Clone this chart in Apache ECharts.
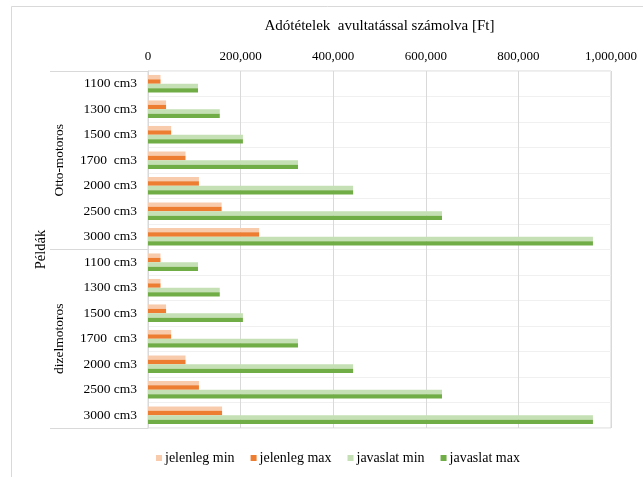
<!DOCTYPE html>
<html>
<head>
<meta charset="utf-8">
<script src="https://cdn.jsdelivr.net/npm/echarts@6/dist/echarts.min.js"></script>
<style>
html,body{margin:0;padding:0;background:#fff;}
#c{width:643px;height:477px;}
</style>
</head>
<body>
<div id="c"></div>
<script>
// ---- data ----
const categories = ['1100 cm3','1300 cm3','1500 cm3','1700  cm3','2000 cm3','2500 cm3','3000 cm3',
                    '1100 cm3','1300 cm3','1500 cm3','1700  cm3','2000 cm3','2500 cm3','3000 cm3'];
const groups = ['Otto-motoros','dizelmotoros'];
const outerGroup = ['Példák'];
const seriesNames = ['jelenleg min','jelenleg max','javaslat min','javaslat max'];
const jelenlegMin = [27000,39000,50000,81000,110000,159000,240000, 27000,27000,39000,50000,81000,110000,160000];
const jelenlegMax = [27000,39000,50000,81000,110000,159000,240000, 27000,27000,39000,50000,81000,110000,160000];
const javaslatMin = [108000,155000,205000,324000,443000,635000,961000, 108000,155000,205000,324000,443000,635000,961000];
const javaslatMax = [108000,155000,205000,324000,443000,635000,961000, 108000,155000,205000,324000,443000,635000,961000];
const axisTitle = 'Adótételek  avultatással számolva [Ft]';
const xMin = 0, xMax = 1000000, xStep = 200000;

const colors = ['#F8CBAD','#ED7D31','#C5E0B4','#70AD47'];
const FONT = '"Liberation Serif", "Times New Roman", serif';
const values = [jelenlegMin, jelenlegMax, javaslatMin, javaslatMax];

const chart = echarts.init(document.getElementById('c'), null, {renderer:'canvas'});
chart.setOption({
  animation: false,
  textStyle: {fontFamily: FONT},
  color: colors,
  graphic: [{
    type: 'rect', silent: true, z: -10,
    shape: {x: 11.5, y: 6.5, width: 700, height: 500},
    style: {fill: 'none', stroke: '#D9D9D9', lineWidth: 1}
  }],
  grid: {left: 148, right: 32, top: 71, bottom: 49, show: true, borderColor: '#D9D9D9', borderWidth: 1, containLabel: false},
  legend: {
    bottom: 7, left: 151,
    itemWidth: 6, itemHeight: 6, itemGap: 16,
    icon: 'rect',
    textStyle: {fontFamily: FONT, fontSize: 14, color: '#000', padding: [0, 0, 0, -2]},
    data: seriesNames
  },
  xAxis: {
    type: 'value', position: 'top', min: xMin, max: xMax, interval: xStep,
    name: axisTitle, nameLocation: 'middle', nameGap: 37,
    nameTextStyle: {fontFamily: FONT, fontSize: 15, color: '#000'},
    axisLine: {show: false}, axisTick: {show: false},
    axisLabel: {fontFamily: FONT, fontSize: 13, color: '#000', margin: 8,
      formatter: v => v.toLocaleString('en-US')},
    splitLine: {lineStyle: {color: '#D9D9D9', width: 1}}
  },
  yAxis: [{
    type: 'category', inverse: true, data: categories,
    axisLine: {show: true, lineStyle: {color: '#D9D9D9'}},
    axisTick: {show: false},
    axisLabel: {fontFamily: FONT, fontSize: 13.5, color: '#000', margin: 11},
    splitLine: {show: true, lineStyle: {color: '#F0F0F0'}}
  }, {
    type: 'category', inverse: true, data: groups, position: 'left', offset: 98,
    axisLine: {show: false},
    axisTick: {show: true, inside: true, length: 98, lineStyle: {color: '#D9D9D9'}},
    axisLabel: {inside: true, rotate: 90, margin: 2, fontFamily: FONT, fontSize: 13.5, color: '#000'},
    splitLine: {show: false}
  }, {
    type: 'category', inverse: true, data: outerGroup, position: 'left', offset: 98,
    axisLine: {show: false}, axisTick: {show: false},
    axisLabel: {rotate: 90, margin: 1, fontFamily: FONT, fontSize: 14.5, color: '#000'},
    splitLine: {show: false}
  }],
  series: seriesNames.map((n, i) => ({
    name: n, type: 'bar', yAxisIndex: 0, data: values[i],
    barGap: '0%', barCategoryGap: '31%',
    itemStyle: {color: colors[i]}
  }))
});
</script>
</body>
</html>
